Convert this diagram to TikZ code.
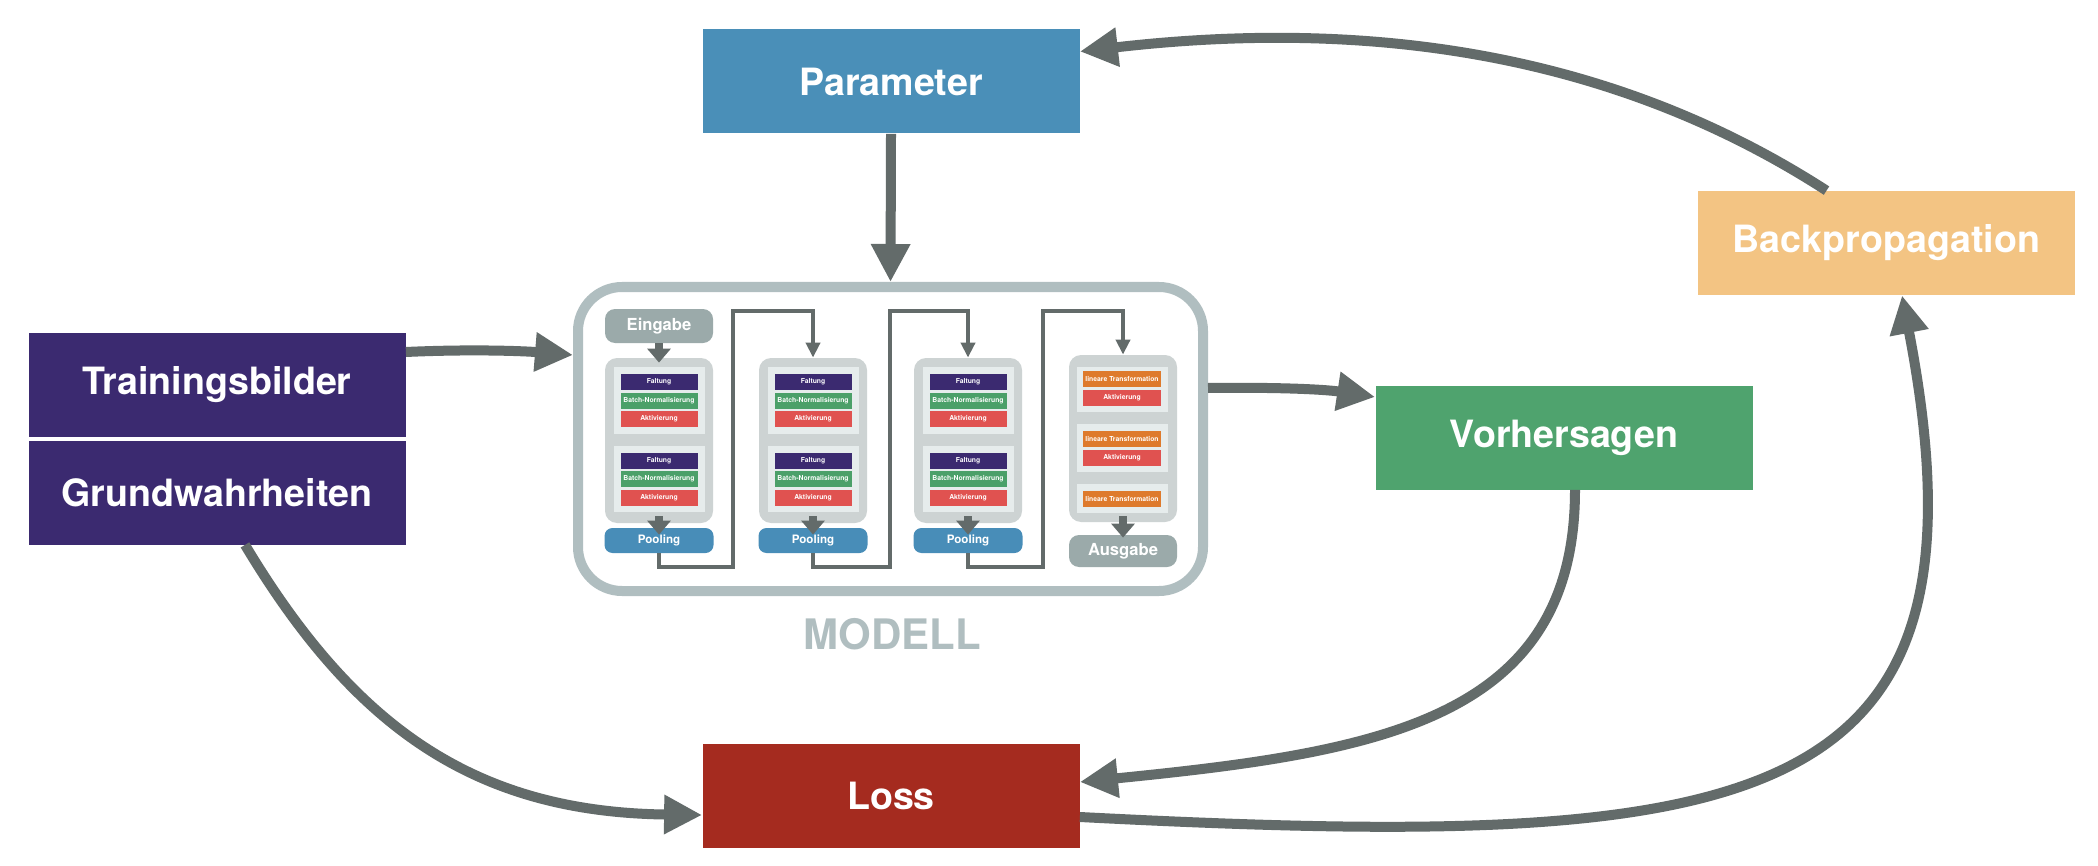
\documentclass[tikz,border=0pt]{standalone}
\usepackage{fontspec}
\setmainfont{TeX Gyre Heros}
\usetikzlibrary{arrows.meta}
\definecolor{arrgray}{RGB}{99,107,106}
\definecolor{parblue}{RGB}{74,143,184}
\definecolor{purp}{RGB}{59,42,112}
\definecolor{bporange}{RGB}{243,196,131}
\definecolor{vgreen}{RGB}{79,163,110}
\definecolor{lossred}{RGB}{165,43,31}
\definecolor{modgray}{RGB}{176,190,192}
\definecolor{colgray}{RGB}{205,211,211}
\definecolor{lightgraytwo}{RGB}{230,236,236}
\definecolor{iogray}{RGB}{155,170,170}
\definecolor{actred}{RGB}{224,82,80}
\definecolor{bgreen}{RGB}{75,160,105}
\definecolor{linorange}{RGB}{222,122,44}
\definecolor{poolblue}{RGB}{72,141,184}
\tikzset{
  bigbox/.style={minimum width=188.5pt, minimum height=52pt, inner sep=0pt, text=white, font=\bfseries\fontsize{18.8}{20}\selectfont},
  mainarrow/.style={draw=arrgray, line width=5pt, -{Triangle[length=19pt,width=18.5pt]}},
  colbox/.style={fill=colgray, rounded corners=6pt, minimum width=54pt, inner sep=0pt},
  lightbox/.style={fill=lightgraytwo, minimum width=45.5pt, inner sep=0pt},
  bar/.style={minimum width=38.5pt, minimum height=8pt, inner sep=0pt, text=white, font=\bfseries\fontsize{3.4}{3.6}\selectfont},
  iobox/.style={fill=iogray, rounded corners=5pt, minimum width=54pt, inner sep=0pt, text=white, font=\bfseries\fontsize{8.3}{9}\selectfont},
  poolbox/.style={fill=poolblue, rounded corners=4pt, minimum width=54.5pt, minimum height=12.5pt, inner sep=0pt, text=white, font=\bfseries\fontsize{5.8}{6.2}\selectfont},
  conn/.style={draw=arrgray, line width=2pt, -{Triangle[length=7.5pt,width=7pt]}},
  blockarrow/.style={draw=arrgray, line width=4pt, -{Triangle[length=7pt,width=11.5pt]}}
}
\begin{document}
\begin{tikzpicture}[x=0.5pt,y=-0.5pt]
\useasboundingbox (0,0) rectangle (2098,866);
\fill[white] (0,0) rectangle (2098,866);

% main boxes
\node[bigbox, fill=parblue] (param) at (891,81.5) {Parameter};
\node[bigbox, fill=purp] (train) at (217,385) {Trainingsbilder};
\node[bigbox, fill=purp] (grund) at (217,492.5) {Grundwahrheiten};
\node[bigbox, fill=bporange] (bp) at (1886.5,243) {Backpropagation};
\node[bigbox, fill=vgreen] (vorh) at (1564,437.5) {Vorhersagen};
\node[bigbox, fill=lossred] (loss) at (891,796) {Loss};

% model frame
\node[draw=modgray, line width=5pt, rounded corners=22pt, minimum width=312.5pt, minimum height=152pt, inner sep=0pt] (model) at (890.5,439) {};
\node[font=\bfseries\fontsize{21}{24}\selectfont, text=modgray] (modlabel) at (892,634) {MODELL};

% input
\node[iobox, minimum height=17pt] (eing) at (659,326) {Eingabe};

% conv columns
\foreach \i/\cx in {1/659,2/813,3/968} {
  \node[colbox, minimum height=82.5pt] (col\i) at (\cx,440.5) {};
  \node[lightbox, minimum height=33.5pt] (lba\i) at (\cx,400.5) {};
  \node[lightbox, minimum height=33pt] (lbb\i) at (\cx,479) {};
  \node[bar, fill=purp] (faa\i) at (\cx,382) {Faltung};
  \node[bar, fill=bgreen] (bna\i) at (\cx,401) {Batch-Normalisierung};
  \node[bar, fill=actred] (aka\i) at (\cx,419) {Aktivierung};
  \node[bar, fill=purp] (fab\i) at (\cx,461) {Faltung};
  \node[bar, fill=bgreen] (bnb\i) at (\cx,479) {Batch-Normalisierung};
  \node[bar, fill=actred] (akb\i) at (\cx,497.5) {Aktivierung};
  \node[poolbox] (pool\i) at (\cx,540.5) {Pooling};
  \draw[blockarrow] ([yshift=3.5pt]col\i.south) -- ([yshift=-3.5pt]pool\i.north);
}

% dense column
\node[colbox, minimum height=83.5pt] (col4) at (1123,438.5) {};
\node[lightbox, minimum height=22.5pt] (lba4) at (1122.5,389.5) {};
\node[lightbox, minimum height=24pt] (lbb4) at (1122.5,448) {};
\node[lightbox, minimum height=14.5pt] (lbc4) at (1122.5,498.5) {};
\node[bar, fill=linorange, minimum width=39pt] (lin1) at (1122,379) {lineare Transformation};
\node[bar, fill=actred, minimum width=39pt] (akc1) at (1122,397.5) {Aktivierung};
\node[bar, fill=linorange, minimum width=39pt] (lin2) at (1122,439) {lineare Transformation};
\node[bar, fill=actred, minimum width=39pt] (akc2) at (1122,457.5) {Aktivierung};
\node[bar, fill=linorange, minimum width=39pt] (lin3) at (1122,499) {lineare Transformation};
\node[iobox, minimum height=16pt] (ausg) at (1123,551) {Ausgabe};

\draw[blockarrow] (eing.south) -- ([yshift=-2.5pt]col1.north);
\draw[blockarrow] ([yshift=3pt]col4.south) -- ([yshift=-1.5pt]ausg.north);

% inner connectors
\draw[conn] (pool1.south) |- (733,567) |- (col2.north |- 0,311) -- (col2.north);
\draw[conn] (pool2.south) |- (890,567) |- (col3.north |- 0,311) -- (col3.north);
\draw[conn] (pool3.south) |- (1043,567) |- (col4.north |- 0,311) -- (col4.north);

% main arrows
\draw[mainarrow] (param.south) -- (model.north);
\draw[mainarrow] ([yshift=16.5pt]train.east) .. controls +(65,-3) and +(-50,-4) .. ([yshift=42pt]model.west);
\draw[mainarrow] ([yshift=25.5pt]model.east) .. controls +(80,-1) and +(-46,-7) .. ([yshift=20.25pt]vorh.west);
\draw[mainarrow] ([xshift=5.5pt]vorh.south) .. controls +(0,230) and +(300,-30) .. ([yshift=7pt]loss.east);
\draw[mainarrow] ([xshift=14pt]grund.south) .. controls +(108,180) and +(-230,-3) .. ([yshift=-9.5pt]loss.west);
\draw[mainarrow] ([yshift=-10.5pt]loss.east) .. controls +(680,35) and +(100,520) .. ([xshift=7.75pt]bp.south);
\draw[mainarrow] ([xshift=-30pt]bp.north) .. controls +(-226,-146) and +(269,-31) .. ([yshift=15pt]param.east);
\end{tikzpicture}
\end{document}
